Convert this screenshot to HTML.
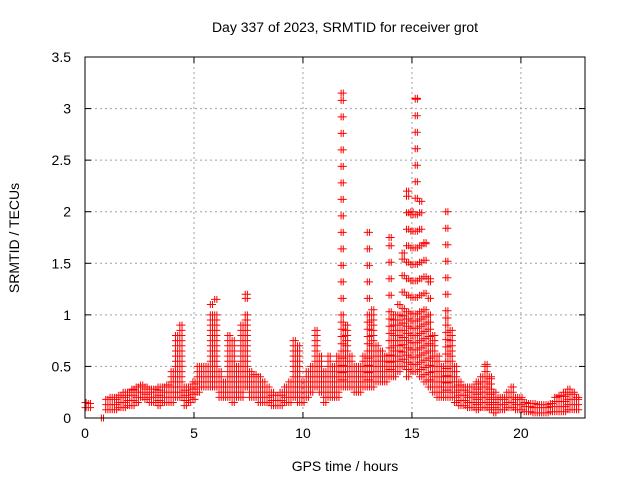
<!DOCTYPE html>
<html><head><meta charset="utf-8"><style>
body{margin:0;background:#fff}
svg{display:block;font-family:"Liberation Sans",sans-serif}
</style></head><body>
<svg id="chart" width="640" height="480" viewBox="0 0 640 480">
<rect width="640" height="480" fill="#fff"/>
<g id="grid"></g>
<g id="marks"></g>
<rect x="85" y="57" width="500" height="361" fill="none" stroke="#000" stroke-width="1"/>
<g id="axes"></g>
<text x="345" y="32" text-anchor="middle" font-size="14">Day 337 of 2023, SRMTID for receiver grot</text>
<text x="345" y="471" text-anchor="middle" font-size="14">GPS time / hours</text>
<text transform="translate(19,238) rotate(-90)" text-anchor="middle" font-size="14">SRMTID / TECUs</text>
</svg>
<script>
const xTicks=[0,5,10,15,20];
const yTicks=[0,0.5,1,1.5,2,2.5,3,3.5];
const yTickLabels=["0","0.5","1","1.5","2","2.5","3","3.5"];
const binStart=0, binStep=0.2;
const lo=[.10,.10,null,null,0,.08,.08,.08,.1,.1,.12,.12,.15,.2,.18,.15,.15,.12,.15,.15,.15,.2,.2,.12,.15,.18,.25,.3,.3,.3,.3,.2,.2,.2,.15,.2,.2,.3,.2,.2,.15,.15,.15,.12,.12,.12,.15,.15,.2,.15,.15,.2,.25,.3,.25,.15,.2,.2,.2,.3,.3,.3,.25,.25,.3,.3,.3,.35,.35,.35,.4,.4,.45,.5,.4,.45,.45,.4,.35,.3,.25,.2,.2,.2,.2,.15,.12,.12,.1,.1,.08,.1,.1,.08,.05,.08,.08,.1,.1,.08,.08,.06,.06,.05,.05,.05,.05,.06,.06,.06,.06,.08,.08,.08];
const hi=[.15,.14,null,null,0,.18,.2,.2,.22,.25,.25,.28,.3,.32,.3,.28,.28,.3,.3,.32,.45,.8,.9,.3,.3,.35,.5,.5,.5,1.1,1.15,.45,.35,.8,.75,.5,.9,1.2,.45,.42,.4,.35,.3,.25,.22,.25,.3,.35,.75,.7,.35,.45,.5,.85,.6,.45,.6,.5,.6,3.15,.9,.6,.5,.5,.6,1.8,1.05,.7,.65,.6,1.75,1.0,1.1,1.6,2.2,2.0,3.1,2.1,1.7,1.35,.8,.6,.5,2.0,.85,.5,.35,.3,.3,.3,.35,.4,.52,.4,.25,.2,.2,.25,.3,.2,.2,.15,.14,.14,.13,.13,.13,.14,.2,.22,.25,.28,.25,.2];
const X0=85,X1=585,Y0=418,Y1=57,XMAX=22.94,YMAX=3.5;
const xs=v=>X0+v/XMAX*(X1-X0);
const ys=v=>Y0-v/YMAX*(Y0-Y1);
const NS="http://www.w3.org/2000/svg";
function mk(t,a,p){const e=document.createElementNS(NS,t);for(const k in a)e.setAttribute(k,a[k]);p.appendChild(e);return e;}
const grid=document.getElementById('grid'),axes=document.getElementById('axes'),marks=document.getElementById('marks');
xTicks.forEach(v=>{
  const x=xs(v);
  if(v>0){const g=mk('line',{x1:x,x2:x,y1:Y1,y2:Y0,stroke:'#a0a0a0','stroke-dasharray':'2,3'},grid);
  
  }
  mk('line',{x1:x,x2:x,y1:Y0,y2:Y0-6,stroke:'#000'},axes);
  mk('line',{x1:x,x2:x,y1:Y1,y2:Y1+6,stroke:'#000'},axes);
  const t=mk('text',{x:x,y:Y0+20,'text-anchor':'middle','font-size':'14'},axes);t.textContent=v;
  
  
});
yTicks.forEach((v,i)=>{
  const y=ys(v);
  if(v>0&&v<YMAX){const g=mk('line',{x1:X0,x2:X1,y1:y,y2:y,stroke:'#a0a0a0','stroke-dasharray':'2,3'},grid);
  
  }
  mk('line',{x1:X0,x2:X0+6,y1:y,y2:y,stroke:'#000'},axes);
  mk('line',{x1:X1,x2:X1-6,y1:y,y2:y,stroke:'#000'},axes);
  const t=mk('text',{x:X0-14,y:y+5,'text-anchor':'end','font-size':'14'},axes);t.textContent=yTickLabels[i];
  
  
});
let d='';
lo.forEach((l,i)=>{
  if(l===null)return;
  const h=hi[i];
  for(let k=0;k<2;k++){
    const t=binStart+i*binStep+k*binStep/2-0.05;
    const x=xs(Math.max(t,0));
    let v=l;
    while(v<=h+1e-9){
      const y=ys(v);
      d+=`M${x-3.5},${y}h7M${x},${y-3.5}v7`;
      v+= (v<1.0)?(h>1.3?0.07:0.05):0.16;
    }
    const y=ys(h);d+=`M${x-3.5},${y}h7M${x},${y-3.5}v7`;
  }
});
const p=mk('path',{d:d,stroke:'#ff0000','stroke-width':'1',fill:'none'},marks);


</script>
</body></html>
